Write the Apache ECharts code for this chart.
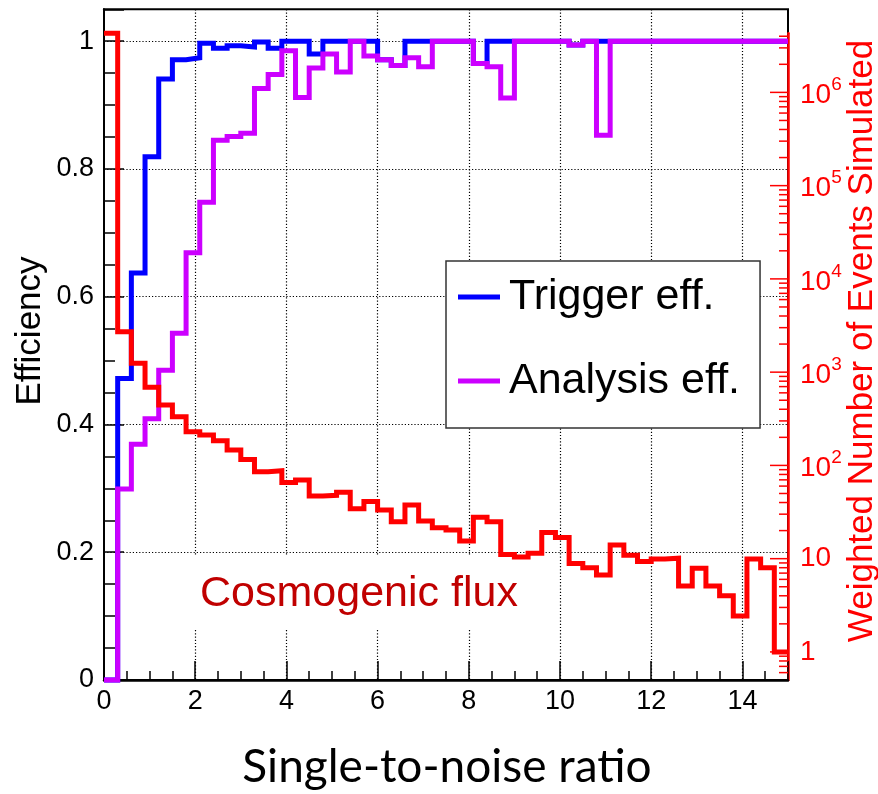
<!DOCTYPE html>
<html>
<head>
<meta charset="utf-8">
<script src="https://cdn.jsdelivr.net/npm/echarts@6/dist/echarts.min.js"></script>
<style>
  html, body { margin: 0; padding: 0; background: #fff; }
  #chart { width: 878px; height: 794px; }
</style>
</head>
<body>
<div id="chart"></div>
<script>
// Histogram binning: 50 bins of width 0.3 covering 0 .. 15
const binStart = 0;
const binWidth = 0.3;

// Trigger efficiency per bin
const triggerEff = [
  0, 0.472, 0.637, 0.819, 0.941, 0.971, 0.974, 0.997, 0.989, 0.993,
  0.991, 0.999, 0.989, 1, 1, 0.98, 1, 1, 1, 1,
  0.971, 0.962, 1, 1, 1, 1, 1, 0.965, 1, 1,
  1, 1, 1, 1, 0.994, 1, 1, 1, 1, 1,
  1, 1, 1, 1, 1, 1, 1, 1, 1, 1
];

// Analysis efficiency per bin
const analysisEff = [
  0, 0.299, 0.369, 0.409, 0.485, 0.543, 0.669, 0.748, 0.845, 0.851,
  0.856, 0.926, 0.948, 0.985, 0.912, 0.958, 0.980, 0.952, 1, 0.977,
  0.971, 0.962, 0.974, 0.960, 1, 1, 1, 0.965, 0.960, 0.911,
  1, 1, 1, 1, 0.994, 1, 0.853, 1, 1, 1,
  1, 1, 1, 1, 1, 1, 1, 1, 1, 1
];

// Weighted number of simulated cosmogenic events per bin
const cosmogenicFlux = [
  4.3e6, 2710, 1242, 687, 444, 333, 230, 212, 184, 146,
  116, 85.5, 87.7, 65.6, 69.7, 47.0, 47.8, 51.5, 34.4, 41.1,
  33.3, 24.9, 37.7, 25.4, 21.5, 20.3, 15.5, 27.8, 24.9, 11.1,
  10.4, 11.4, 19.1, 16.9, 8.9, 8.0, 6.7, 14.0, 10.9, 9.3,
  9.9, 10.1, 5.1, 7.9, 5.1, 4.0, 2.43, 9.9, 8.0, 1.0
];

// Axis ranges and labelled decades of the event-count axis
const xRange = [0, 15];
const effRange = [0, 1.05];
const fluxRange = [0.5, 4.3e6];
const fluxDecades = [0, 1, 2, 3, 4, 5, 6];

const seriesNames = ['Trigger eff.', 'Analysis eff.'];

// Turn per-bin contents into the edge points of a step outline
function histOutline(values) {
  const pts = values.map((v, i) => [binStart + i * binWidth, v]);
  pts.push([binStart + values.length * binWidth, values[values.length - 1]]);
  return pts;
}

// Major (decade) and minor (2..9 x decade) ticks of the log axis
function logTicks() {
  const out = [];
  for (let e = -1; e <= 7; e++) {
    for (let m = 1; m <= 9; m++) {
      const v = m * Math.pow(10, e);
      if (v > fluxRange[0] * 1.0001 && v < fluxRange[1] * 0.9999) {
        out.push([xRange[1], v, m === 1 ? 1 : 0]);
      }
    }
  }
  return out;
}

const FONT = 'Liberation Sans';
const RED = '#ff0000';
const dotted = { color: '#000', width: 1.2, type: [1.2, 2] };

const grid = { left: 104, right: 90, top: 9.3, bottom: 114 };

const option = {
  animation: false,
  backgroundColor: '#fff',
  grid: [
    { left: grid.left, right: grid.right, top: grid.top, bottom: grid.bottom,
      show: true, borderColor: '#000', borderWidth: 2, backgroundColor: 'transparent' },
    { left: grid.left, right: grid.right, top: 33.3, bottom: grid.bottom, show: false }
  ],
  xAxis: [
    {
      type: 'value', gridIndex: 0, min: xRange[0], max: xRange[1], interval: 2,
      axisLine: { show: true, onZero: false, lineStyle: { color: '#000', width: 2.5 } },
      axisTick: { show: true, inside: true, length: 19, lineStyle: { color: '#000', width: 1.5 } },
      minorTick: { show: true, splitNumber: 4, length: 9, lineStyle: { color: '#000', width: 1.5 } },
      axisLabel: { show: true, margin: 8, fontSize: 27, fontFamily: FONT, color: '#000',
        showMaxLabel: false,
        formatter: v => (v > 14.5 ? '' : String(v)) },
      splitLine: { show: true, showMinLine: false, showMaxLine: false, lineStyle: dotted }
    },
    { type: 'value', gridIndex: 1, min: xRange[0], max: xRange[1], show: false }
  ],
  yAxis: [
    {
      type: 'value', gridIndex: 0, min: effRange[0], max: effRange[1], interval: 0.2, position: 'left',
      axisLine: { show: true, onZero: false, lineStyle: { color: '#000', width: 2 } },
      axisTick: { show: true, inside: true, length: 20, lineStyle: { color: '#000', width: 1.5 } },
      minorTick: { show: true, splitNumber: 4, length: 11, lineStyle: { color: '#000', width: 1.5 } },
      axisLabel: { margin: 10, fontSize: 27, fontFamily: FONT, color: '#000', showMaxLabel: false,
        formatter: v => (v > 1.001 ? '' : String(+v.toFixed(2))) },
      splitLine: { show: true, showMinLine: false, showMaxLine: false, lineStyle: dotted }
    },
    {
      type: 'log', logBase: 10, gridIndex: 1, min: fluxRange[0], max: fluxRange[1], position: 'right',
      axisLine: { show: true, onZero: false, lineStyle: { color: RED, width: 2.5 } },
      axisTick: { show: false },
      minorTick: { show: false },
      splitLine: { show: false },
      axisLabel: {
        margin: 12, color: RED, fontFamily: FONT,
        formatter: v => {
          const lg = Math.log10(v);
          const e = Math.round(lg);
          if (Math.abs(lg - e) > 1e-6 || fluxDecades.indexOf(e) < 0) return '';
          if (e === 0) return '{p|1}';
          if (e === 1) return '{p|10}';
          return '{b|10}{s|' + e + '}';
        },
        rich: {
          p: { fontSize: 28, fontFamily: FONT, color: RED },
          b: { fontSize: 28, fontFamily: FONT, color: RED, lineHeight: 34, verticalAlign: 'bottom' },
          s: { fontSize: 19, fontFamily: FONT, color: RED, verticalAlign: 'top' }
        }
      }
    }
  ],
  legend: {
    show: true,
    orient: 'vertical',
    left: 446, top: 261,
    padding: [14.5, 20, 25.5, 12],
    itemGap: 41,
    itemWidth: 42,
    itemHeight: 5,
    icon: 'rect',
    selectedMode: false,
    backgroundColor: '#fff',
    borderColor: '#333',
    borderWidth: 1.5,
    borderRadius: 0,
    textStyle: { fontSize: 43, lineHeight: 43, fontFamily: FONT, color: '#000', padding: [0, 0, 0, 4] },
    data: seriesNames
  },
  graphic: [
    { type: 'rect', z: 1, silent: true,
      shape: { x: 165, y: 556, width: 370, height: 74 },
      style: { fill: '#fff' } },
    { type: 'text', z: 5, silent: true,
      style: { text: 'Cosmogenic flux', x: 359, y: 594, fill: '#c00000',
        font: '43px "Liberation Sans"', align: 'center', verticalAlign: 'middle',
        textAlign: 'center', textVerticalAlign: 'middle' } },
    { type: 'text', z: 5, silent: true, x: 30, y: 331, rotation: Math.PI / 2,
      style: { text: 'Efficiency', x: 0, y: 0, fill: '#000',
        font: '35px "Liberation Sans"', align: 'center', verticalAlign: 'middle',
        textAlign: 'center', textVerticalAlign: 'middle' } },
    { type: 'text', z: 5, silent: true, x: 862, y: 341, rotation: Math.PI / 2,
      style: { text: 'Weighted Number of Events Simulated', x: 0, y: 0, fill: RED,
        font: '35px "Liberation Sans"', align: 'center', verticalAlign: 'middle',
        textAlign: 'center', textVerticalAlign: 'middle' } },
    { type: 'text', z: 5, silent: true,
      style: { text: 'Single-to-noise ratio', x: 447, y: 767, fill: '#000',
        font: '46px Lato', align: 'center', verticalAlign: 'middle',
        textAlign: 'center', textVerticalAlign: 'middle' } }
  ],
  series: [
    {
      name: seriesNames[0], type: 'line', xAxisIndex: 0, yAxisIndex: 0,
      step: 'end', symbol: 'none', showSymbol: false, clip: false,
      color: '#0000ff',
      lineStyle: { color: '#0000ff', width: 5, cap: 'butt', join: 'miter' },
      data: histOutline(triggerEff)
    },
    {
      name: seriesNames[1], type: 'line', xAxisIndex: 0, yAxisIndex: 0,
      step: 'end', symbol: 'none', showSymbol: false, clip: false,
      color: '#cc00ff',
      lineStyle: { color: '#cc00ff', width: 5, cap: 'butt', join: 'miter' },
      data: histOutline(analysisEff)
    },
    {
      name: 'Cosmogenic flux', type: 'line', xAxisIndex: 1, yAxisIndex: 1,
      step: 'end', symbol: 'none', showSymbol: false, clip: false,
      color: RED,
      lineStyle: { color: RED, width: 5, cap: 'butt', join: 'miter' },
      data: histOutline(cosmogenicFlux)
    },
    {
      name: 'fluxTicks', type: 'custom', xAxisIndex: 1, yAxisIndex: 1,
      silent: true, clip: false, z: 4,
      renderItem: (params, api) => {
        const p = api.coord([api.value(0), api.value(1)]);
        const len = api.value(2) ? 18 : 9;
        return { type: 'line',
          shape: { x1: p[0] - len, y1: p[1], x2: p[0], y2: p[1] },
          style: { stroke: RED, lineWidth: 1.5 } };
      },
      data: logTicks()
    }
  ]
};

const chart = echarts.init(document.getElementById('chart'), null, { renderer: 'canvas', width: 878, height: 794 });
chart.setOption(option);
</script>
</body>
</html>
